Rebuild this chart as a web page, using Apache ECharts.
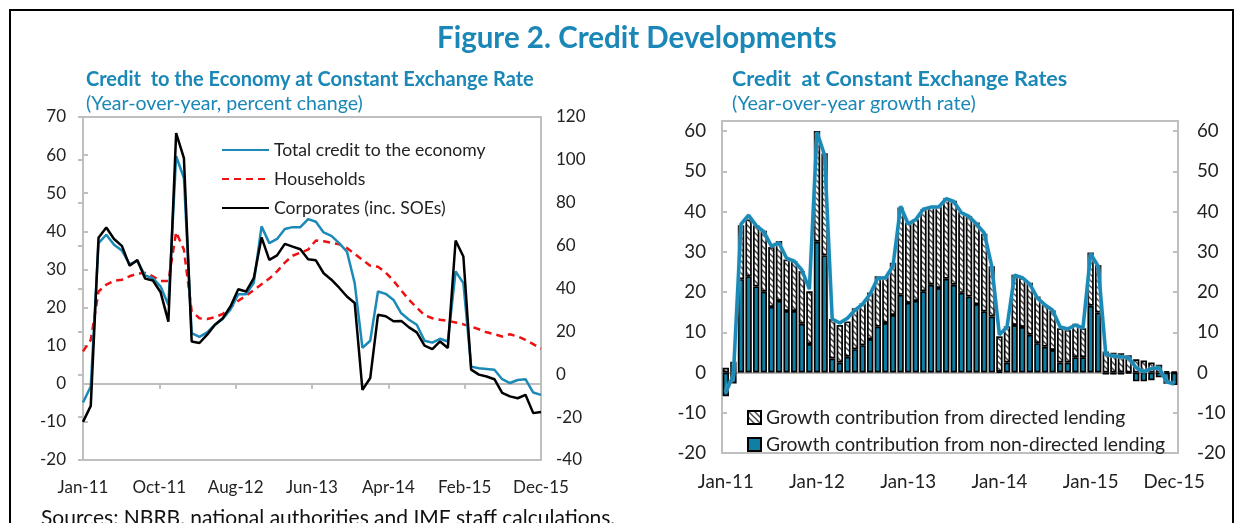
<!DOCTYPE html>
<html>
<head>
<meta charset="UTF-8">
<title>Figure 2. Credit Developments</title>
<script src="https://cdn.jsdelivr.net/npm/echarts@6.0.0/dist/echarts.min.js"></script>
<style>
  html, body { margin: 0; padding: 0; background: #fff; }
  #main { width: 1243px; height: 523px; }
</style>
</head>
<body>
<div id="main"></div>
<script>
// month labels Jan-11 .. Dec-15
const monthNames = ['Jan','Feb','Mar','Apr','May','Jun','Jul','Aug','Sep','Oct','Nov','Dec'];
const years = ['11','12','13','14','15'];
const months = [];
years.forEach(y => monthNames.forEach(m => months.push(m + '-' + y)));

// left panel (percent change, y/y)
const totalCredit = [-4.9, -0.7, 36.9, 39.1, 36.5, 35, 31.4, 32.2, 28.4, 27.7, 25.5, 20.7,
  59.7, 54, 13.3, 12.3, 13.5, 15.5, 17, 19.5, 23.5, 23.5, 26.5, 41.3,
  36.9, 38, 40.6, 41.1, 41.1, 43.2, 42.5, 39.7, 38.8, 36.9, 34.7, 26.4,
  9.4, 11.3, 24.2, 23.6, 22, 18.5, 16.8, 15.5, 11.3, 10.8, 11.8, 11.1,
  29.5, 26.4, 4.5, 4.1, 3.9, 3.7, 1.2, 0.2, 1, 1.2, -2.3, -2.9];
const households = [8.5, 11.5, 24.2, 26, 27, 27.3, 28.2, 28.9, 29.1, 28.2, 27, 27,
  39.8, 35.2, 19, 17.2, 17, 17.5, 18.3, 20, 21.8, 23.1, 24.6, 26.1,
  27.6, 29.5, 31.8, 33.6, 34.4, 35.2, 37.6, 37.4, 37, 36.6, 35.6, 34.1,
  32.5, 31, 30.7, 29.2, 27, 24.5, 22, 20, 18, 17.2, 16.8, 16.5,
  16.1, 15.6, 15, 14.3, 13.5, 13, 12.4, 13, 12.4, 11.5, 10.4, 9.2];
const corporates = [-10, -5.8, 38.3, 41, 38, 36.2, 31, 32.5, 27.6, 27.1, 24, 16.3,
  65.8, 59.2, 11.1, 10.7, 12.9, 15.5, 17.2, 20.3, 24.8, 24.2, 27.7, 38.4,
  32.5, 33.7, 36.7, 36, 35.3, 32.7, 32.4, 29, 27.3, 25.2, 22.9, 21.2,
  -1.6, 1.5, 18.1, 17.7, 16.4, 16.5, 14.8, 13.5, 10, 9.1, 11.1, 9.4,
  37.6, 33.4, 3.7, 2.4, 1.9, 1.2, -2.4, -3.3, -3.8, -2.9, -7.7, -7.4];

// right panel contributions
const nonDirected = [-5.9, -2.7, 23.2, 23.9, 21.4, 20.1, 16.3, 17.8, 15.3, 15.3, 12.1, 7.1,
  32.5, 29.1, 3.5, 2.5, 3.9, 5.8, 6.8, 8.3, 11.4, 12.3, 14.3, 19.3,
  17.3, 17.8, 20.2, 21.8, 21, 23.3, 21.8, 19.8, 18.9, 17, 15.2, 13.9,
  0.2, 2.5, 11.8, 11.3, 9.4, 7.3, 6.4, 5.6, 2.5, 2.5, 3.8, 3.8,
  16.6, 14.9, -0.5, -0.5, -0.5, -0.2, -2.2, -2.2, -1.9, -1.2, -2.8, -3.1];
const directed = [1.2, 2.7, 13.4, 14.2, 15.2, 15.1, 14.9, 14.9, 12.8, 12.4, 13.1, 13.1,
  27.5, 25.4, 9.8, 9.3, 8.8, 10.2, 10.4, 11.6, 12.5, 11.6, 13, 21.7,
  20, 20.3, 20.4, 19.5, 20.3, 20, 20.9, 20.1, 20, 20.3, 19.3, 12.5,
  8.8, 9, 12.5, 12.2, 12.9, 11.6, 10.4, 9.8, 8.5, 8.1, 8.3, 7.2,
  13.2, 11.8, 5.2, 4.9, 4.8, 4.3, 3.3, 3, 2.5, 1.9, 0.3, 0.2];

const leftTicksL = [-20, -10, 0, 10, 20, 30, 40, 50, 60, 70];
const rightTicksL = [-40, -20, 0, 20, 40, 60, 80, 100, 120];
const ticksR = [-20, -10, 0, 10, 20, 30, 40, 50, 60];
const rightLabelIdx = [0, 12, 24, 36, 48, 59];

const FONT = 'Lato';
const TEAL = '#1a87b6';
const LINEBLUE = '#1b8ab6';
const BARTEAL = '#0f7fa3';
const AXISGRAY = '#bfbfbf';

// x positions for the left panel: 6 equal steps across the 60 months
const leftXTicks = [];
for (let k = 0; k <= 6; k++) leftXTicks.push(k * 59 / 6);

function pairs(arr) { return arr.map((v, i) => [i, v]); }

function makeHatch() {
  const c = document.createElement('canvas');
  c.width = 6; c.height = 6;
  const g = c.getContext('2d');
  g.fillStyle = '#fff';
  g.fillRect(0, 0, 6, 6);
  g.strokeStyle = '#4a4a4a';
  g.lineWidth = 1.5;
  g.beginPath();
  g.moveTo(-3, 3); g.lineTo(3, 9);
  g.moveTo(0, 0); g.lineTo(6, 6);
  g.moveTo(3, -3); g.lineTo(9, 3);
  g.stroke();
  return c;
}

const chart = echarts.init(document.getElementById('main'));

const labelStyle = { fontFamily: FONT, color: '#222' };

const option = {
  animation: false,
  backgroundColor: '#fff',
  textStyle: { fontFamily: FONT },
  title: [
    { text: 'Figure 2. Credit Developments', left: 432, top: 18,
      textStyle: { fontFamily: FONT, fontSize: 29.5, fontWeight: 'bold', color: TEAL } },
    { text: 'Credit  to the Economy at Constant Exchange Rate', left: 81, top: 65,
      textStyle: { fontFamily: FONT, fontSize: 20, fontWeight: 'bold', color: TEAL } },
    { text: '(Year-over-year, percent change)', left: 81, top: 89,
      textStyle: { fontFamily: FONT, fontSize: 19.6, fontWeight: 'normal', color: TEAL } },
    { text: 'Credit  at Constant Exchange Rates', left: 727, top: 63,
      textStyle: { fontFamily: FONT, fontSize: 21.5, fontWeight: 'bold', color: TEAL } },
    { text: '(Year-over-year growth rate)', left: 727, top: 89,
      textStyle: { fontFamily: FONT, fontSize: 19.8, fontWeight: 'normal', color: TEAL } },
    { text: 'Sources: NBRB, national authorities and IMF staff calculations.', left: 36, top: 503,
      textStyle: { fontFamily: FONT, fontSize: 21, fontWeight: 'normal', color: '#111' } }
  ],
  graphic: [
    { type: 'polyline', shape: { points: [[10, 523], [10, 10], [1233, 10], [1233, 523]] },
      style: { stroke: '#000', lineWidth: 2, fill: null } }
  ],
  legend: [
    { orient: 'vertical', left: 216, top: 136, itemGap: 11, itemWidth: 47, itemHeight: 18,
      itemStyle: { opacity: 0 },
      data: ['Total credit to the economy', 'Households', 'Corporates (inc. SOEs)'],
      textStyle: { fontFamily: FONT, fontSize: 17.6, color: '#222' } },
    { orient: 'vertical', left: 742, top: 403, itemGap: 8, itemWidth: 13, itemHeight: 13,
      icon: 'rect',
      data: ['Growth contribution from directed lending', 'Growth contribution from non-directed lending'],
      textStyle: { fontFamily: FONT, fontSize: 19.3, color: '#222' } }
  ],
  grid: [
    { left: 83, right: 702, top: 117, bottom: 63, show: true, borderColor: AXISGRAY, borderWidth: 2 },
    { left: 722, right: 65, top: 121, bottom: 70, show: true, borderColor: AXISGRAY, borderWidth: 2 }
  ],
  xAxis: [
    { type: 'value', gridIndex: 0, min: 0, max: 59,
      axisLine: { show: false, onZero: false }, axisTick: { show: false }, splitLine: { show: false },
      axisLabel: Object.assign({ fontSize: 17, margin: 19, customValues: leftXTicks,
        formatter: v => months[Math.floor(v + 0.01)] }, labelStyle) },
    { type: 'value', gridIndex: 0, min: 0, max: 59,
      axisLine: { show: true, onZero: true, lineStyle: { color: AXISGRAY, width: 2 } },
      axisTick: { show: true, inside: true, length: 5, customValues: leftXTicks, lineStyle: { color: AXISGRAY, width: 2 } },
      axisLabel: { show: false }, splitLine: { show: false } },
    { type: 'category', gridIndex: 1, data: months, boundaryGap: true,
      axisLine: { show: false, onZero: false }, axisTick: { show: false }, splitLine: { show: false },
      axisLabel: Object.assign({ fontSize: 18.7, margin: 19,
        interval: (i) => rightLabelIdx.indexOf(i) >= 0 }, labelStyle) },
    { type: 'category', gridIndex: 1, data: months, boundaryGap: true,
      axisLine: { show: true, onZero: true, lineStyle: { color: '#9a9a9a', width: 1.5 } },
      axisTick: { show: false }, axisLabel: { show: false }, splitLine: { show: false } }
  ],
  yAxis: [
    { type: 'value', gridIndex: 0, min: -20, max: 70, position: 'left',
      axisLine: { show: false }, splitLine: { show: false },
      axisTick: { show: true, inside: true, length: 5, customValues: leftTicksL, lineStyle: { color: AXISGRAY, width: 2 } },
      axisLabel: Object.assign({ fontSize: 17, margin: 17, customValues: leftTicksL }, labelStyle) },
    { type: 'value', gridIndex: 0, min: -40, max: 120, position: 'right',
      axisLine: { show: false }, splitLine: { show: false },
      axisTick: { show: true, inside: true, length: 5, customValues: rightTicksL, lineStyle: { color: AXISGRAY, width: 2 } },
      axisLabel: Object.assign({ fontSize: 17, margin: 15, customValues: rightTicksL }, labelStyle) },
    { type: 'value', gridIndex: 1, min: -20, max: 62.5, position: 'left',
      axisLine: { show: false }, splitLine: { show: false },
      axisTick: { show: true, inside: true, length: 5, customValues: ticksR, lineStyle: { color: AXISGRAY, width: 2 } },
      axisLabel: Object.assign({ fontSize: 18.7, margin: 16, customValues: ticksR }, labelStyle) },
    { type: 'value', gridIndex: 1, min: -20, max: 62.5, position: 'right',
      axisLine: { show: false }, splitLine: { show: false },
      axisTick: { show: true, inside: true, length: 5, customValues: ticksR, lineStyle: { color: AXISGRAY, width: 2 } },
      axisLabel: Object.assign({ fontSize: 18.7, margin: 19, customValues: ticksR }, labelStyle) }
  ],
  series: [
    { name: 'Total credit to the economy', type: 'line', xAxisIndex: 0, yAxisIndex: 0,
      data: pairs(totalCredit), symbol: 'none', z: 3,
      lineStyle: { color: LINEBLUE, width: 2.5 }, itemStyle: { color: LINEBLUE } },
    { name: 'Households', type: 'line', xAxisIndex: 0, yAxisIndex: 0,
      data: pairs(households), symbol: 'none', z: 2,
      lineStyle: { color: '#ee1111', width: 2.5, type: [7, 5] }, itemStyle: { color: '#ee1111' } },
    { name: 'Corporates (inc. SOEs)', type: 'line', xAxisIndex: 0, yAxisIndex: 0,
      data: pairs(corporates), symbol: 'none', z: 4,
      lineStyle: { color: '#000', width: 2.5 }, itemStyle: { color: '#000' } },
    { name: 'Growth contribution from non-directed lending', type: 'bar', xAxisIndex: 2, yAxisIndex: 2,
      stack: 'contrib', data: nonDirected, barCategoryGap: '16%',
      itemStyle: { color: BARTEAL, borderColor: '#000', borderWidth: 1.7 } },
    { name: 'Growth contribution from directed lending', type: 'bar', xAxisIndex: 2, yAxisIndex: 2,
      stack: 'contrib', data: directed, barCategoryGap: '16%',
      itemStyle: { color: { image: makeHatch(), repeat: 'repeat' }, borderColor: '#000', borderWidth: 1.7 } },
    { name: 'Total', type: 'line', xAxisIndex: 2, yAxisIndex: 2,
      data: totalCredit, symbol: 'none', z: 5,
      lineStyle: { color: LINEBLUE, width: 3.5, shadowColor: 'rgba(200,230,245,0.9)', shadowBlur: 2 } }
  ]
};

chart.setOption(option);
</script>
</body>
</html>
